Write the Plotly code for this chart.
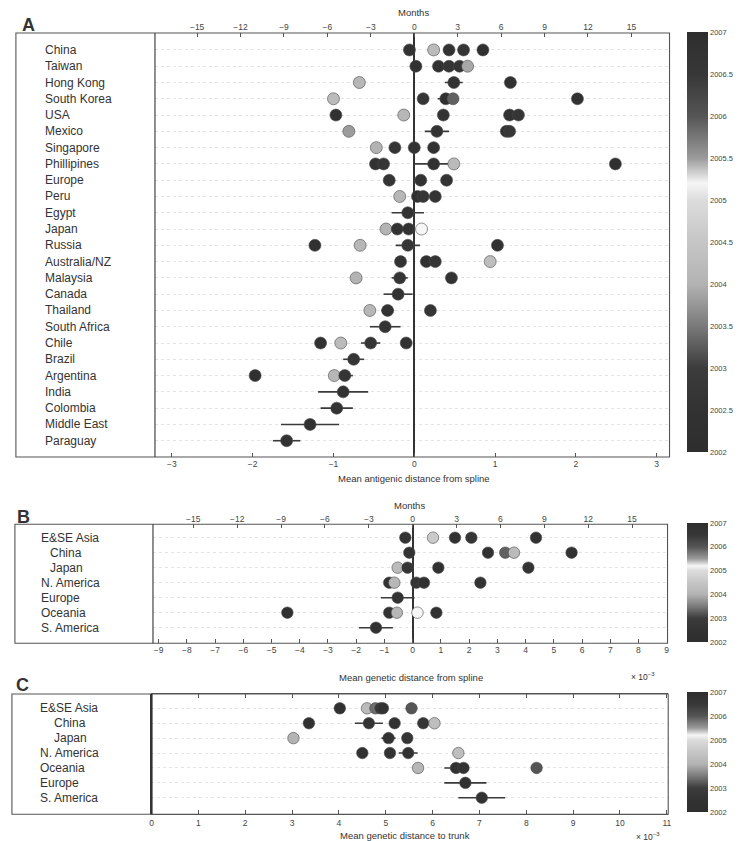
import plotly.graph_objects as go

W, H = 750, 841
FONT = "Liberation Sans, Arial, sans-serif"

# ---------------- Panel A: antigenic distance from spline ----------------
a_regions = ["China", "Taiwan", "Hong Kong", "South Korea", "USA", "Mexico",
             "Singapore", "Phillipines", "Europe", "Peru", "Egypt", "Japan",
             "Russia", "Australia/NZ", "Malaysia", "Canada", "Thailand",
             "South Africa", "Chile", "Brazil", "Argentina", "India",
             "Colombia", "Middle East", "Paraguay"]

a_pt_region = ["China"] * 5 + ["Taiwan"] * 5 + ["Hong Kong"] * 3 + ["South Korea"] * 5 + \
    ["USA"] * 5 + ["Mexico"] * 4 + ["Singapore"] * 4 + ["Phillipines"] * 5 + \
    ["Europe"] * 3 + ["Peru"] * 4 + ["Egypt"] + ["Japan"] * 4 + ["Russia"] * 4 + \
    ["Australia/NZ"] * 4 + ["Malaysia"] * 3 + ["Canada"] + ["Thailand"] * 3 + \
    ["South Africa"] + ["Chile"] * 4 + ["Brazil"] + ["Argentina"] * 3 + ["India"] + \
    ["Colombia"] + ["Middle East"] + ["Paraguay"]
a_dist = [-0.06, 0.24, 0.43, 0.61, 0.85,
          0.02, 0.30, 0.43, 0.56, 0.66,
          -0.68, 0.49, 1.19,
          -1.00, 0.11, 0.39, 0.48, 2.02,
          -0.97, -0.13, 0.36, 1.18, 1.29,
          -0.81, 0.28, 1.14, 1.18,
          -0.47, -0.24, 0.00, 0.24,
          -0.48, -0.38, 0.24, 0.49, 2.49,
          -0.31, 0.08, 0.40,
          -0.18, 0.04, 0.11, 0.26,
          -0.08,
          -0.35, -0.21, -0.07, 0.09,
          -1.23, -0.67, -0.08, 1.03,
          -0.17, 0.15, 0.26, 0.94,
          -0.72, -0.18, 0.46,
          -0.20,
          -0.55, -0.33, 0.20,
          -0.36,
          -1.16, -0.91, -0.54, -0.10,
          -0.75,
          -1.97, -0.99, -0.86,
          -0.88,
          -0.96,
          -1.29,
          -1.58]
a_year = [2006.7, 2004.2, 2002.5, 2006.6, 2002.3,
          2006.8, 2002.4, 2006.6, 2002.6, 2003.9,
          2004.1, 2006.7, 2002.4,
          2004.2, 2006.6, 2002.3, 2003.3, 2002.4,
          2002.4, 2004.1, 2006.7, 2002.5, 2006.6,
          2003.8, 2006.7, 2002.4, 2006.5,
          2004.0, 2002.6, 2006.7, 2002.4,
          2002.5, 2006.6, 2002.4, 2004.2, 2002.3,
          2006.6, 2002.5, 2006.7,
          2004.1, 2002.4, 2006.6, 2002.6,
          2006.7,
          2004.0, 2002.5, 2006.7, 2005.2,
          2002.4, 2004.1, 2006.6, 2002.5,
          2006.7, 2002.4, 2006.6, 2004.3,
          2004.0, 2006.6, 2002.5,
          2006.7,
          2004.1, 2002.5, 2006.6,
          2002.6,
          2002.4, 2004.2, 2006.6, 2002.5,
          2002.6,
          2002.3, 2004.1, 2006.6,
          2002.5,
          2006.7,
          2002.4,
          2002.5]
a_err = [0, 0, 0, 0, 0,
         0, 0, 0, 0, 0,
         0, 0.11, 0,
         0, 0, 0.10, 0, 0,
         0, 0, 0, 0, 0,
         0, 0.15, 0, 0,
         0, 0, 0, 0,
         0, 0, 0.25, 0, 0,
         0, 0, 0,
         0, 0, 0.10, 0,
         0.20,
         0, 0, 0.08, 0,
         0, 0, 0.15, 0,
         0.06, 0, 0, 0,
         0, 0.10, 0,
         0.18,
         0, 0.08, 0,
         0.19,
         0, 0, 0.12, 0,
         0.13,
         0, 0, 0.10,
         0.31,
         0.20,
         0.36,
         0.17]

# ---------------- Panel B: genetic distance from spline (x 1e-3) ----------------
b_regions = ["E&SE Asia", "China", "Japan", "N. America", "Europe", "Oceania", "S. America"]
b_pt_region = ["E&SE Asia"] * 5 + ["China"] * 5 + ["Japan"] * 4 + ["N. America"] * 5 + \
    ["Europe"] + ["Oceania"] * 5 + ["S. America"]
b_dist = [-0.26, 0.72, 1.50, 2.08, 4.37,
          -0.12, 2.67, 3.28, 3.59, 5.63,
          -0.53, -0.18, 0.91, 4.10,
          -0.83, -0.65, 0.13, 0.40, 2.40,
          -0.53,
          -4.44, -0.83, -0.56, 0.17, 0.84,
          -1.30]
b_year = [2006.7, 2004.6, 2002.4, 2006.6, 2002.5,
          2006.7, 2002.4, 2003.3, 2004.2, 2002.5,
          2004.2, 2006.6, 2002.4, 2006.7,
          2002.5, 2004.1, 2006.6, 2002.4, 2006.7,
          2002.5,
          2002.4, 2006.7, 2004.1, 2005.2, 2002.5,
          2002.4]
b_err = [0, 0, 0, 0, 0,
         0, 0, 0, 0, 0,
         0, 0, 0, 0,
         0, 0, 0.15, 0, 0,
         0.60,
         0, 0, 0, 0, 0,
         0.60]

# ---------------- Panel C: genetic distance to trunk (x 1e-3) ----------------
c_regions = ["E&SE Asia", "China", "Japan", "N. America", "Oceania", "Europe", "S. America"]
c_pt_region = ["E&SE Asia"] * 6 + ["China"] * 5 + ["Japan"] * 3 + ["N. America"] * 4 + \
    ["Oceania"] * 4 + ["Europe"] + ["S. America"]
c_dist = [4.02, 4.60, 4.78, 4.89, 4.94, 5.55,
          3.36, 4.64, 5.19, 5.80, 6.04,
          3.03, 5.06, 5.46,
          4.50, 5.09, 5.48, 6.55,
          5.69, 6.50, 6.66, 8.22,
          6.70,
          7.05]
c_year = [2002.4, 2004.2, 2003.4, 2006.6, 2002.5, 2003.2,
          2002.4, 2006.7, 2002.5, 2006.6, 2004.3,
          2004.0, 2002.5, 2006.6,
          2002.4, 2006.7, 2002.5, 2004.3,
          2004.1, 2002.5, 2006.7, 2003.2,
          2002.4,
          2006.7]
c_err = [0, 0, 0, 0, 0, 0,
         0, 0.30, 0, 0, 0,
         0, 0.15, 0,
         0, 0, 0.20, 0,
         0, 0.25, 0, 0,
         0.45,
         0.50]

# Month scale factors for the top axes (months per x unit)
A_MONTHS_PER_UNIT = 5.58
B_MONTHS_PER_UNIT = 1.93

month_ticks = [-15, -12, -9, -6, -3, 0, 3, 6, 9, 12, 15]
year_ticks_a = [2002, 2002.5, 2003, 2003.5, 2004, 2004.5, 2005, 2005.5, 2006, 2006.5, 2007]
year_ticks_bc = [2002, 2003, 2004, 2005, 2006, 2007]
year_scale = [
    [0.00, "#2e2e2e"], [0.10, "#323232"], [0.20, "#3c3c3c"], [0.30, "#7a7a7a"],
    [0.40, "#b3b3b3"], [0.50, "#c6c6c6"], [0.60, "#dcdcdc"], [0.64, "#f6f6f6"],
    [0.70, "#9a9a9a"], [0.80, "#555555"], [0.90, "#373737"], [1.00, "#2e2e2e"],
]


def fx(px):
    return px / W


def fy(py):
    return 1 - py / H


fig = go.Figure()


def add_points(regions, pt_region, dist, year, err, xa, ya, cax, size):
    rows = [regions.index(r) for r in pt_region]
    fig.add_trace(go.Scatter(
        x=dist, y=rows, mode="markers", xaxis=xa, yaxis=ya,
        marker=dict(size=size, color=year, coloraxis=cax,
                    line=dict(width=0.6, color="#4a4a4a")),
        error_x=dict(type="data", array=err, visible=True, color="#3a3a3a",
                     thickness=1.6, width=0),
        showlegend=False, hoverinfo="skip",
    ))


add_points(a_regions, a_pt_region, a_dist, a_year, a_err, "x", "y", "coloraxis", 12)
add_points(b_regions, b_pt_region, b_dist, b_year, b_err, "x3", "y2", "coloraxis2", 11.5)
add_points(c_regions, c_pt_region, c_dist, c_year, c_err, "x5", "y3", "coloraxis3", 11.5)

# empty traces so the month axes get drawn on top of panels A and B
for xa, ya in [("x2", "y"), ("x4", "y2")]:
    fig.add_trace(go.Scatter(x=[], y=[], xaxis=xa, yaxis=ya, mode="markers",
                             showlegend=False, hoverinfo="skip"))

tickfont = dict(family=FONT, size=8.5, color="#444")


def bottom_axis(dom, rng, tickvals, anchor, zero=True):
    return dict(domain=dom, range=rng, anchor=anchor, tickvals=tickvals,
                ticks="inside", ticklen=4, tickcolor="#555", tickwidth=1,
                tickfont=tickfont, showgrid=False, showline=False,
                zeroline=zero, zerolinecolor="#333", zerolinewidth=2.2,
                fixedrange=True)


def top_axis(over, anchor, rng):
    return dict(overlaying=over, anchor=anchor, side="top", range=rng,
                tickvals=month_ticks, ticks="inside", ticklen=4, tickcolor="#555",
                tickfont=tickfont, showgrid=False, zeroline=False, showline=False,
                fixedrange=True)


def row_axis(dom, n, top_pad, bot_pad, anchor):
    return dict(domain=dom, range=[n - 1 + bot_pad, -top_pad], anchor=anchor,
                tickvals=list(range(n)), showticklabels=False, ticks="",
                showgrid=True, gridcolor="#e4e4e4", griddash="dot", gridwidth=1,
                zeroline=False, showline=False, fixedrange=True)


a_rng = [-3.21, 3.16]
b_rng = [-9.2, 9.03]
c_rng = [0, 11.03]

layout = dict(
    width=W, height=H, margin=dict(l=0, r=0, t=0, b=0),
    paper_bgcolor="white", plot_bgcolor="white",
    font=dict(family=FONT, color="#333"),
    xaxis=bottom_axis([fx(154), fx(672)], a_rng, list(range(-3, 4)), "y"),
    xaxis2=top_axis("x", "y", [v * A_MONTHS_PER_UNIT for v in a_rng]),
    yaxis=row_axis([fy(457), fy(33)], len(a_regions), 1.04, 1.0, "x"),
    xaxis3=bottom_axis([fx(152), fx(670)], b_rng, list(range(-9, 10)), "y2"),
    xaxis4=top_axis("x3", "y2", [v * B_MONTHS_PER_UNIT for v in b_rng]),
    yaxis2=row_axis([fy(643.3), fy(524.3)], len(b_regions), 0.89, 1.04, "x3"),
    xaxis5=dict(bottom_axis([fx(150.5), fx(670.7)], c_rng, list(range(0, 12)), "y3"),
                mirror="ticks", showline=True, linecolor="#555", linewidth=1),
    yaxis3=row_axis([fy(814.3), fy(694)], len(c_regions), 0.96, 1.11, "x5"),
)


def cbar(top, bottom, tickvals):
    return dict(colorscale=year_scale, cmin=2002, cmax=2007,
                colorbar=dict(x=fx(690), xanchor="left", xpad=0,
                              y=fy(top), yanchor="top", ypad=0,
                              lenmode="pixels", len=bottom - top,
                              thickness=21, outlinewidth=0,
                              tickvals=tickvals, ticktext=[f"{v:g}" for v in tickvals],
                              ticks="",
                              tickfont=dict(family=FONT, size=7.5, color="#444")))


layout["coloraxis"] = cbar(32, 452, year_ticks_a)
layout["coloraxis2"] = cbar(523, 642, year_ticks_bc)
layout["coloraxis3"] = cbar(692, 812, year_ticks_bc)

# panel frames and label-column dividers
shapes = []
for (x0, x1, y0, y1, xd, wd) in [(14, 672, 33, 457, 154, 1.1),
                                  (13, 670, 524.3, 643.3, 152, 1.1),
                                  (10, 670.7, 694, 814.3, 150.5, 2.2)]:
    shapes.append(dict(type="rect", xref="paper", yref="paper",
                       x0=fx(x0), x1=fx(x1), y0=fy(y1), y1=fy(y0),
                       line=dict(color="#555", width=1.1)))
    shapes.append(dict(type="line", xref="paper", yref="paper",
                       x0=fx(xd), x1=fx(xd), y0=fy(y1), y1=fy(y0),
                       line=dict(color="#333", width=wd)))
layout["shapes"] = shapes

ann = []
lab_font = dict(family=FONT, size=12, color="#333")
for r in a_regions:
    ann.append(dict(text=r, x=fx(41), y=a_regions.index(r), xref="paper", yref="y",
                    xanchor="left", yanchor="middle", showarrow=False, font=lab_font))
indented = {"China", "Japan"}
for r in b_regions:
    ann.append(dict(text=r, x=fx(46 if r in indented else 37.5), y=b_regions.index(r),
                    xref="paper", yref="y2", xanchor="left", yanchor="middle",
                    showarrow=False, font=lab_font))
for r in c_regions:
    ann.append(dict(text=r, x=fx(50 if r in indented else 36.5), y=c_regions.index(r),
                    xref="paper", yref="y3", xanchor="left", yanchor="middle",
                    showarrow=False, font=lab_font))


def text(t, px, py, size=9.5, anchor="center", bold=False):
    ann.append(dict(text=f"<b>{t}</b>" if bold else t, x=fx(px), y=fy(py),
                    xref="paper", yref="paper", xanchor=anchor, yanchor="middle",
                    showarrow=False, font=dict(family=FONT, size=size, color="#333")))


text("A", 18, 25, 18, "left", True)
text("B", 13, 517, 18, "left", True)
text("C", 12, 685, 18, "left", True)
text("Months", 414, 13, 9.5)
text("Months", 410, 505, 9.5)
text("Mean antigenic distance from spline", 415, 478, 9.5)
text("Mean genetic distance from spline", 412, 677, 9.5)
text("Mean genetic distance to trunk", 406, 835, 9.5)
text("\u00d7 10<sup>\u22123</sup>", 645, 676, 8.5)
text("\u00d7 10<sup>\u22123</sup>", 650, 836, 8.5)
layout["annotations"] = ann

fig.update_layout(**layout)
fig.write_html("out.html")
